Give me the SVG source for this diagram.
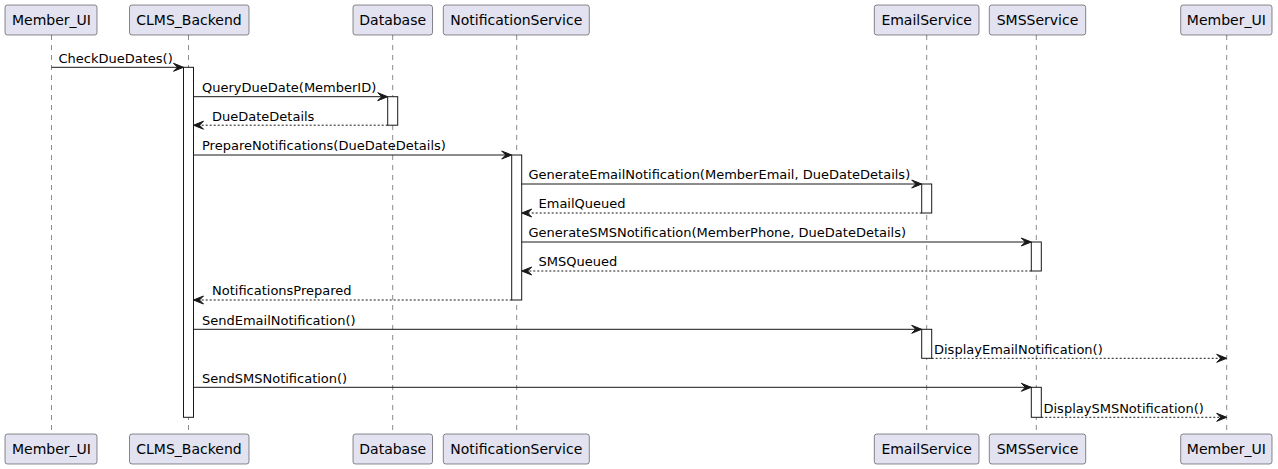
<svg xmlns="http://www.w3.org/2000/svg" width="1278" height="469" viewBox="0 0 1278 469">
<style>
.box{fill:#E2E2F0;stroke:#181818;stroke-width:0.5}
.bt{font-family:"DejaVu Sans",sans-serif;font-size:14px;fill:#000;text-anchor:middle}
.life{stroke:#181818;stroke-width:0.5;stroke-dasharray:5,5;fill:none}
.act{fill:#FFFFFF;stroke:#181818;stroke-width:1}
.msg{stroke:#181818;stroke-width:1;fill:none}
.ret{stroke:#181818;stroke-width:1;stroke-dasharray:2,2;fill:none}
.head{fill:#181818;stroke:#181818;stroke-width:1}
.mt{font-family:"DejaVu Sans",sans-serif;font-size:13px;fill:#000}
</style>
<rect width="1278" height="469" fill="#FFFFFF"/>
<g id="lifelines">
<line class="life" x1="51.5" y1="35" x2="51.5" y2="434"/>
<line class="life" x1="188.5" y1="35" x2="188.5" y2="434"/>
<line class="life" x1="392.7" y1="35" x2="392.7" y2="434"/>
<line class="life" x1="516.7" y1="35" x2="516.7" y2="434"/>
<line class="life" x1="926.7" y1="35" x2="926.7" y2="434"/>
<line class="life" x1="1036.3" y1="35" x2="1036.3" y2="434"/>
<line class="life" x1="1226.7" y1="35" x2="1226.7" y2="434"/>
</g>
<g id="Member_UI">
<rect class="box" x="5" y="5" width="92" height="30" rx="2.5"/>
<text class="bt" x="51.5" y="25">Member_UI</text>
<rect class="box" x="5" y="434" width="92" height="30" rx="2.5"/>
<text class="bt" x="51.5" y="454">Member_UI</text>
</g>
<g id="CLMS_Backend">
<rect class="box" x="129.5" y="5" width="119.5" height="30" rx="2.5"/>
<text class="bt" x="189" y="25">CLMS_Backend</text>
<rect class="box" x="129.5" y="434" width="119.5" height="30" rx="2.5"/>
<text class="bt" x="189" y="454">CLMS_Backend</text>
<rect class="act" x="183.5" y="67.3" width="10" height="350"/>
</g>
<g id="Database">
<rect class="box" x="353" y="5" width="79.5" height="30" rx="2.5"/>
<text class="bt" x="392.7" y="25">Database</text>
<rect class="box" x="353" y="434" width="79.5" height="30" rx="2.5"/>
<text class="bt" x="392.7" y="454">Database</text>
<rect class="act" x="387.7" y="96.7" width="10" height="28.5"/>
</g>
<g id="NotificationService">
<rect class="box" x="443.3" y="5" width="146" height="30" rx="2.5"/>
<text class="bt" x="516.3" y="25">NotificationService</text>
<rect class="box" x="443.3" y="434" width="146" height="30" rx="2.5"/>
<text class="bt" x="516.3" y="454">NotificationService</text>
<rect class="act" x="511.7" y="155" width="10" height="145"/>
</g>
<g id="EmailService">
<rect class="box" x="874.3" y="5" width="104.7" height="30" rx="2.5"/>
<text class="bt" x="926.7" y="25">EmailService</text>
<rect class="box" x="874.3" y="434" width="104.7" height="30" rx="2.5"/>
<text class="bt" x="926.7" y="454">EmailService</text>
<rect class="act" x="921.7" y="184" width="10" height="29"/>
<rect class="act" x="921.7" y="329.3" width="10" height="29"/>
</g>
<g id="SMSService">
<rect class="box" x="989.3" y="5" width="96.4" height="30" rx="2.5"/>
<text class="bt" x="1037.5" y="25">SMSService</text>
<rect class="box" x="989.3" y="434" width="96.4" height="30" rx="2.5"/>
<text class="bt" x="1037.5" y="454">SMSService</text>
<rect class="act" x="1031.3" y="242" width="10" height="29"/>
<rect class="act" x="1031.3" y="387.3" width="10" height="30"/>
</g>
<g id="Member_UI_2">
<rect class="box" x="1180.7" y="5" width="91.3" height="30" rx="2.5"/>
<text class="bt" x="1226.3" y="25">Member_UI</text>
<rect class="box" x="1180.7" y="434" width="91.3" height="30" rx="2.5"/>
<text class="bt" x="1226.3" y="454">Member_UI</text>
</g>
<g id="connectors">
<line class="msg" x1="51.5" y1="67.3" x2="182.5" y2="67.3"/>
<polygon class="head" points="173.5,63.3 183.5,67.3 173.5,71.3 177.5,67.3"/>
<text class="mt" x="58.5" y="62.5">CheckDueDates()</text>

<line class="msg" x1="193.5" y1="96.7" x2="386.7" y2="96.7"/>
<polygon class="head" points="377.7,92.7 387.7,96.7 377.7,100.7 381.7,96.7"/>
<text class="mt" x="202" y="92">QueryDueDate(MemberID)</text>

<line class="ret" x1="387.7" y1="125.2" x2="194.5" y2="125.2"/>
<polygon class="head" points="203.5,121.2 193.5,125.2 203.5,129.2 199.5,125.2"/>
<text class="mt" x="212" y="120.5">DueDateDetails</text>

<line class="msg" x1="193.5" y1="155" x2="510.7" y2="155"/>
<polygon class="head" points="501.7,151 511.7,155 501.7,159 505.7,155"/>
<text class="mt" x="202" y="150.3">PrepareNotifications(DueDateDetails)</text>

<line class="msg" x1="521.7" y1="184" x2="920.7" y2="184"/>
<polygon class="head" points="911.7,180 921.7,184 911.7,188 915.7,184"/>
<text class="mt" x="528.5" y="179.3">GenerateEmailNotification(MemberEmail, DueDateDetails)</text>

<line class="ret" x1="921.7" y1="213" x2="522.7" y2="213"/>
<polygon class="head" points="531.7,209 521.7,213 531.7,217 527.7,213"/>
<text class="mt" x="538.5" y="208.3">EmailQueued</text>

<line class="msg" x1="521.7" y1="242" x2="1030.3" y2="242"/>
<polygon class="head" points="1021.3,238 1031.3,242 1021.3,246 1025.3,242"/>
<text class="mt" x="528.5" y="237.3">GenerateSMSNotification(MemberPhone, DueDateDetails)</text>

<line class="ret" x1="1031.3" y1="271" x2="522.7" y2="271"/>
<polygon class="head" points="531.7,267 521.7,271 531.7,275 527.7,271"/>
<text class="mt" x="538.5" y="266.3">SMSQueued</text>

<line class="ret" x1="511.7" y1="300" x2="194.5" y2="300"/>
<polygon class="head" points="203.5,296 193.5,300 203.5,304 199.5,300"/>
<text class="mt" x="212" y="295.3">NotificationsPrepared</text>

<line class="msg" x1="193.5" y1="329.3" x2="920.7" y2="329.3"/>
<polygon class="head" points="911.7,325.3 921.7,329.3 911.7,333.3 915.7,329.3"/>
<text class="mt" x="202" y="324.6">SendEmailNotification()</text>

<line class="ret" x1="931.7" y1="358.3" x2="1225.7" y2="358.3"/>
<polygon class="head" points="1216.7,354.3 1226.7,358.3 1216.7,362.3 1220.7,358.3"/>
<text class="mt" x="934" y="353.6">DisplayEmailNotification()</text>

<line class="msg" x1="193.5" y1="387.3" x2="1030.3" y2="387.3"/>
<polygon class="head" points="1021.3,383.3 1031.3,387.3 1021.3,391.3 1025.3,387.3"/>
<text class="mt" x="202" y="382.6">SendSMSNotification()</text>

<line class="ret" x1="1041.3" y1="417.3" x2="1225.7" y2="417.3"/>
<polygon class="head" points="1216.7,413.3 1226.7,417.3 1216.7,421.3 1220.7,417.3"/>
<text class="mt" x="1043.5" y="412.6">DisplaySMSNotification()</text>
</g>
</svg>
